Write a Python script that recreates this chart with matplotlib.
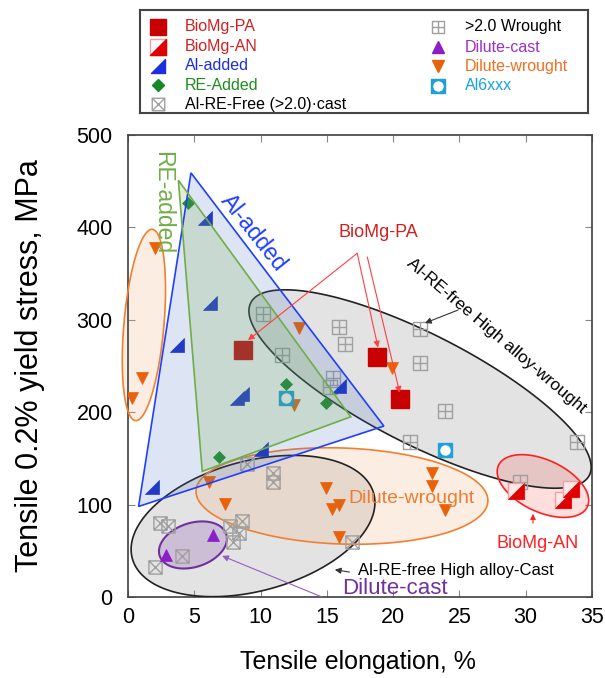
import numpy as np
import matplotlib
matplotlib.use('Agg')
import matplotlib.pyplot as plt
from matplotlib.path import Path
from matplotlib.patches import Polygon

plt.rcParams['font.family'] = ['Liberation Sans', 'DejaVu Sans']

# ---------------- data ----------------
biomg_pa_x = [8.7, 18.8, 20.5]
biomg_pa_y = [267, 260, 214]
biomg_an_x = [29.3, 32.8, 33.4]
biomg_an_y = [115, 105, 117]
al_added_x = [1.8, 3.7, 5.8, 6.2, 8.2, 8.6, 10.0, 15.9]
al_added_y = [119, 273, 410, 318, 215, 220, 160, 228]
re_added_x = [4.5, 6.9, 11.9, 14.9]
re_added_y = [426, 152, 230, 210]
cast_x = [2.4, 3.0, 2.0, 4.1, 7.7, 8.6, 8.4, 7.9, 10.9, 10.9, 9.0, 16.9]
cast_y = [80, 77, 33, 44, 77, 82, 69, 59, 134, 125, 144, 60]
wrought_x = [10.2, 11.6, 15.9, 16.4, 15.5, 15.2, 22.0, 22.0, 23.9, 21.3, 33.9, 29.6]
wrought_y = [306, 262, 292, 274, 237, 227, 290, 253, 201, 168, 168, 124]
dcast_x = [6.4, 2.9]
dcast_y = [67, 45]
dwrought_x = [2.0, 1.05, 0.3, 12.9, 12.5, 19.9, 6.1, 7.3, 14.9, 15.4, 15.9, 15.9, 22.9, 22.9, 23.9]
dwrought_y = [378, 237, 215, 291, 208, 248, 125, 101, 118, 95, 100, 65, 134, 120, 94]
al6_x = [11.9, 23.9]
al6_y = [215, 159]

x_ticks = [0, 5, 10, 15, 20, 25, 30, 35]
y_ticks = [0, 100, 200, 300, 400, 500]

# ---------------- figure ----------------
W, H = 605, 678
fig = plt.figure(figsize=(W / 100, H / 100), dpi=100)
ax_pos = [128 / W, 1 - 597 / H, 464 / W, 462 / H]
ax = fig.add_axes(ax_pos)
ax.set_xlim(0, 35)
ax.set_ylim(0, 500)
ax.set_xticks(x_ticks)
ax.set_yticks(y_ticks)
ax.tick_params(direction='in', top=True, right=True, length=5, width=0.8,
               color='#888888', labelsize=15.5)
ax.tick_params(axis='x', pad=7)
ax.tick_params(axis='y', pad=11)
for s in ax.spines.values():
    s.set_color('#404040')
    s.set_linewidth(1.2)

SX = ax_pos[2] * W / 35.0
SY = ax_pos[3] * H / 500.0


def ellipse_xy(cx, cy, a_px, b_px, ang, n=300):
    t = np.linspace(0, 2 * np.pi, n)
    th = np.deg2rad(ang)
    u, v = a_px * np.cos(t), b_px * np.sin(t)
    px = u * np.cos(th) - v * np.sin(th)
    py = u * np.sin(th) + v * np.cos(th)
    return np.column_stack([cx + px / SX, cy + py / SY])


def add_ellipse(cx, cy, a, b, ang, fc, alpha, ec, lw, zf=1, ze=4, clip=True):
    xy = ellipse_xy(cx, cy, a, b, ang)
    ax.add_patch(Polygon(xy, closed=True, facecolor=fc, alpha=alpha, edgecolor='none',
                         zorder=zf, clip_on=clip))
    ax.add_patch(Polygon(xy, closed=True, facecolor='none', edgecolor=ec, lw=lw,
                         zorder=ze, clip_on=clip))


# gray ellipses
add_ellipse(22.03, 225.1, 190, 55, -27, '#E3E3E3', 1.0, '#222222', 1.2)
add_ellipse(9.43, 76.8, 125, 65, 15, '#E3E3E3', 1.0, '#222222', 1.2)
# orange ellipses
add_ellipse(16.14, 109.3, 146, 48, -2, '#F4B183', 0.22, '#F08030', 1.2, zf=2)
add_ellipse(1.2, 294.4, 96, 20, 85, '#F4B183', 0.22, '#F08030', 1.2, zf=2, clip=False)
# purple
add_ellipse(4.9, 56.3, 35, 22, 18, '#7030A0', 0.2, '#7030A0', 1.5, zf=2)
# red
add_ellipse(31.3, 120.1, 49, 26, -25, '#FF0000', 0.13, '#FF2020', 1.2, zf=2)

# triangles (drawn over markers with alpha)
blue_tri = [(4.75, 459), (0.8, 98), (19.3, 185)]
green_tri = [(3.8, 451), (5.6, 136), (16.8, 195)]
ax.add_patch(Polygon(blue_tri, closed=True, facecolor='#4472C4', alpha=0.18, edgecolor='none', zorder=6))
ax.add_patch(Polygon(green_tri, closed=True, facecolor='#70AD47', alpha=0.2, edgecolor='none', zorder=7))
ax.add_patch(Polygon(blue_tri, closed=True, facecolor='none', edgecolor='#1F3FFF', lw=1.2, zorder=8))
ax.add_patch(Polygon(green_tri, closed=True, facecolor='none', edgecolor='#70AD47', lw=1.2, zorder=8))

# ---------------- markers ----------------
M, L = Path.MOVETO, Path.LINETO
box_x = Path([(-1, -1), (1, -1), (1, 1), (-1, 1), (-1, -1), (-1, -1), (1, 1), (-1, 1), (1, -1)],
             [M, L, L, L, L, M, L, M, L])
box_plus = Path([(-1, -1), (1, -1), (1, 1), (-1, 1), (-1, -1), (0, -1), (0, 1), (-1, 0), (1, 0)],
                [M, L, L, L, L, M, L, M, L])
rtri = Path([(-1, -1), (1, -1), (1, 1), (-1, -1)], [M, L, L, Path.CLOSEPOLY])

GRAY = '#A0A0A0'
RED = '#C80000'
BLUE = '#1A2FC8'
GREEN = '#138A24'
PURPLE = '#8A1FC8'
ORANGE = '#E8620A'
CYAN = '#1EA0D8'

ax.plot(cast_x, cast_y, ls='none', marker=box_x, ms=9.5, mfc='none', mec=GRAY, mew=1.0, zorder=5)
ax.plot(wrought_x, wrought_y, ls='none', marker=box_plus, ms=9.5, mfc='none', mec=GRAY, mew=1.0, zorder=5)
ax.plot(dwrought_x, dwrought_y, ls='none', marker='v', ms=9, mfc=ORANGE, mec=ORANGE, mew=0.5, zorder=5)
ax.plot(dcast_x, dcast_y, ls='none', marker='^', ms=9, mfc=PURPLE, mec=PURPLE, mew=0.5, zorder=5)
ax.plot(al_added_x, al_added_y, ls='none', marker=rtri, ms=10, mfc=BLUE, mec=BLUE, mew=0.5, zorder=5)
ax.plot(re_added_x, re_added_y, ls='none', marker='D', ms=6.5, mfc=GREEN, mec=GREEN, mew=0.5, zorder=5)
ax.plot(al6_x, al6_y, ls='none', marker='s', ms=9.5, mfc=CYAN, mec=CYAN, zorder=5)
ax.plot(al6_x, al6_y, ls='none', marker='o', ms=6.5, mfc='white', mec='white', zorder=5)
ax.plot(biomg_pa_x, biomg_pa_y, ls='none', marker='s', ms=13, mfc=RED, mec=RED, zorder=5)
ax.plot(biomg_an_x, biomg_an_y, ls='none', marker='s', ms=11.5, mfc='#FFE8E8', mec='#F4A0A0', mew=1.0, zorder=5)
ax.plot(biomg_an_x, biomg_an_y, ls='none', marker=rtri, ms=11.5, mfc='#E00000', mec='#E00000', mew=0.5, zorder=5)

# ---------------- annotations ----------------
ax.text(2.6, 427, 'RE-added', color='#70AD47', fontsize=16.5, rotation=-90,
        ha='center', va='center', rotation_mode='anchor', zorder=9)
ax.text(9.5, 394, 'Al-added', color='#1F3FFF', fontsize=16.5, rotation=-51.5,
        ha='center', va='center', rotation_mode='anchor', zorder=9)
ax.text(18.86, 394, 'BioMg-PA', color='#D02020', fontsize=13, ha='center', va='center', zorder=9,
        bbox=dict(facecolor='white', edgecolor='none', pad=3))
ap_red = dict(arrowstyle='-|>', color='#FF4040', lw=0.8, mutation_scale=9, shrinkA=0, shrinkB=0)
ax.annotate('', xy=(9.05, 278), xytext=(17.29, 372), arrowprops=ap_red, zorder=9)
ax.annotate('', xy=(18.86, 270), xytext=(17.29, 372), arrowprops=ap_red, zorder=9)
ax.annotate('', xy=(20.5, 221), xytext=(18.05, 368), arrowprops=ap_red, zorder=9)

ax.text(27.76, 282.5, 'Al-RE-free High alloy-wrought', color='black', fontsize=12.5,
        rotation=-40.4, ha='center', va='center', rotation_mode='anchor', zorder=9)
ap_blk = dict(arrowstyle='-|>', color='#333333', lw=0.8, mutation_scale=9, shrinkA=0, shrinkB=0)
ax.annotate('', xy=(22.4, 296.5), xytext=(24.9, 310.6), arrowprops=ap_blk, zorder=9)

ax.text(21.35, 107, 'Dilute-wrought', color='#ED7D31', fontsize=14, ha='center', va='center', zorder=9)
ax.text(30.9, 58, 'BioMg-AN', color='#FF2020', fontsize=13, ha='center', va='center', zorder=9)
ap_r2 = dict(arrowstyle='-|>', color='#FF2020', lw=0.8, mutation_scale=8, shrinkA=0, shrinkB=0)
ax.annotate('', xy=(30.55, 90), xytext=(30.55, 80), arrowprops=ap_r2, zorder=9)

ax.text(24.74, 29, 'Al-RE-free High alloy-Cast', color='black', fontsize=12, ha='center', va='center', zorder=9)
ax.annotate('', xy=(15.6, 29.5), xytext=(16.7, 27), arrowprops=ap_blk, zorder=9)
ax.text(20.14, 9, 'Dilute-cast', color='#7030A0', fontsize=16, ha='center', va='center', zorder=9)
ap_p = dict(arrowstyle='-|>', color='#9060C0', lw=0.8, mutation_scale=9, shrinkA=0, shrinkB=0)
ax.annotate('', xy=(7.1, 44.5), xytext=(14.63, 0), arrowprops=ap_p, zorder=9)

# axis labels
fig.text(358 / W, 1 - 662 / H, 'Tensile elongation, %', fontsize=18, ha='center', va='center')
fig.text(30 / W, 1 - 366 / H, 'Tensile 0.2% yield stress, MPa', fontsize=22, ha='center',
         va='center', rotation=90)

# ---------------- legend (manual box) ----------------
lax = fig.add_axes([140 / W, 1 - 113 / H, 448 / W, 103 / H])
lax.set_xlim(0, 448)
lax.set_ylim(103, 0)
lax.set_xticks([])
lax.set_yticks([])
for s in lax.spines.values():
    s.set_color('#444444')
    s.set_linewidth(1.5)

c1m, c1t, c2m, c2t = 18, 45, 298, 325
r1 = [17, 37, 56, 75, 94]
r2 = [17, 37, 56, 76]
lfs = 11.5
lax.plot([c1m], [r1[0]], marker='s', ms=12, mfc=RED, mec=RED, ls='none')
lax.text(c1t, r1[0], 'BioMg-PA', color='#D02020', fontsize=lfs, va='center')
lax.plot([c1m], [r1[1]], marker='s', ms=11, mfc='white', mec='#F4A0A0', ls='none')
lax.plot([c1m], [r1[1]], marker=rtri, ms=11, mfc='#E00000', mec='#E00000', ls='none')
lax.text(c1t, r1[1], 'BioMg-AN', color='#D02020', fontsize=lfs, va='center')
lax.plot([c1m], [r1[2]], marker=rtri, ms=10, mfc='#1A2FE0', mec='#1A2FE0', ls='none')
lax.text(c1t, r1[2], 'Al-added', color='#1A2FE0', fontsize=lfs, va='center')
lax.plot([c1m], [r1[3]], marker='D', ms=6.5, mfc=GREEN, mec=GREEN, ls='none')
lax.text(c1t, r1[3], 'RE-Added', color='#1E8C1E', fontsize=lfs, va='center')
lax.plot([c1m], [r1[4]], marker=box_x, ms=9, mfc='none', mec=GRAY, ls='none')
lax.text(c1t, r1[4], 'Al-RE-Free (>2.0)·cast', color='black', fontsize=lfs, va='center')

lax.plot([c2m], [r2[0]], marker=box_plus, ms=9, mfc='none', mec=GRAY, ls='none')
lax.text(c2t, r2[0], '>2.0 Wrought', color='black', fontsize=lfs, va='center')
lax.plot([c2m], [r2[1]], marker='^', ms=9, mfc=PURPLE, mec=PURPLE, ls='none')
lax.text(c2t, r2[1], 'Dilute-cast', color='#9A30C8', fontsize=lfs, va='center')
lax.plot([c2m], [r2[2]], marker='v', ms=9, mfc=ORANGE, mec=ORANGE, ls='none')
lax.text(c2t, r2[2], 'Dilute-wrought', color='#EE7020', fontsize=lfs, va='center')
lax.plot([c2m], [r2[3]], marker='s', ms=9.5, mfc=CYAN, mec=CYAN, ls='none')
lax.plot([c2m], [r2[3]], marker='o', ms=6.5, mfc='white', mec='white', ls='none')
lax.text(c2t, r2[3], 'Al6xxx', color='#1AA0E0', fontsize=lfs, va='center')

fig.savefig('out.png', dpi=100)
